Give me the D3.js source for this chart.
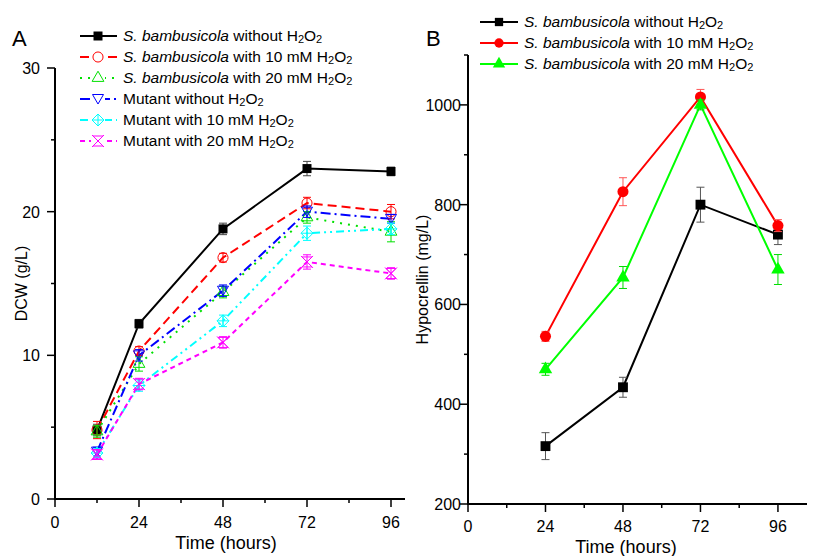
<!DOCTYPE html>
<html>
<head>
<meta charset="utf-8">
<script src="https://cdn.jsdelivr.net/npm/d3@7"></script>
<style>
  body { margin: 0; background: #fff; }
  text { font-family: "Liberation Sans", Arial, sans-serif; }
</style>
</head>
<body>
<div id="chart"></div>
<script>
// ---- data ----
var hoursA = [12, 24, 48, 72, 96];
var namesA = [
  ["S. bambusicola", " without "],
  ["S. bambusicola", " with 10 mM "],
  ["S. bambusicola", " with 20 mM "],
  ["", "Mutant without "],
  ["", "Mutant with 10 mM "],
  ["", "Mutant with 20 mM "]
];
var dcwWild0 = [4.8, 12.2, 18.8, 23.0, 22.8];
var dcwWild10 = [4.8, 10.3, 16.8, 20.6, 20.0];
var dcwWild20 = [4.7, 9.4, 14.4, 19.6, 18.6];
var dcwMut0 = [3.3, 10.0, 14.5, 20.0, 19.5];
var dcwMut10 = [3.2, 7.9, 12.4, 18.5, 18.8];
var dcwMut20 = [3.1, 8.0, 10.9, 16.5, 15.7];
var dcwErr = [
  [0.4, 0.3, 0.4, 0.5, 0.3],
  [0.6, 0.3, 0.3, 0.4, 0.5],
  [0.4, 0.5, 0.4, 0.4, 0.7],
  [0.3, 0.4, 0.4, 0.4, 0.3],
  [0.3, 0.4, 0.4, 0.5, 0.4],
  [0.3, 0.4, 0.4, 0.5, 0.4]
];

var hoursB = [24, 48, 72, 96];
var namesB = namesA.slice(0, 3);
var hypWild0 = [316, 434, 800, 740];
var hypWild10 = [536, 826, 1016, 758];
var hypWild20 = [470, 654, 1000, 670];
var hypErr = [
  [27, 20, 35, 20],
  [10, 28, 15, 12],
  [12, 22, 10, 30]
];

var ticksMain = [0, 24, 48, 72, 96];

// ---- styles per series ----
var colorsA = ["#000000", "#ff0000", "#00e000", "#0000ff", "#00ffff", "#ff00ff"];
var dashesA = [null, "9,5", "2,6", "10,4,2,4", "8,4,2,4,2,4", "5,4"];
var markersA = ["square", "circle", "triangle", "triangleDown", "diamondPlus", "hourglass"];
var colorsB = ["#000000", "#ff0000", "#00ff00"];
var markersB = ["square", "circle", "triangle"];
var errColorsB = ["#555555", "#ff5555", "#00dd00"];

var svg = d3.select("#chart").append("svg")
  .attr("width", 815).attr("height", 556);

function markerPath(type, k) {
  if (type === "square") return d3.symbol(d3.symbolSquare, 81 * k)();
  if (type === "circle") return d3.symbol(d3.symbolCircle, 80 * k)();
  if (type === "triangle") return d3.symbol(d3.symbolTriangle, 60 * k)();
  if (type === "triangleDown") return "M-5.5,-4.5L5.5,-4.5L0,5Z";
  if (type === "diamondPlus") return "M0,-6L6,0L0,6L-6,0Z M0,-6L0,6 M-6,0L6,0";
  if (type === "hourglass") return "M-5,-5L5,-5L-5,5L5,5Z M-6,-6L6,6 M6,-6L-6,6";
  return "";
}

function drawMarker(g, type, color, filled, x, y, k) {
  var p = g.append("path")
    .attr("d", markerPath(type, k || 1))
    .attr("transform", "translate(" + x + "," + y + ")");
  if (filled || type === "square") {
    p.attr("fill", color).attr("stroke", "none");
  } else {
    p.attr("fill", "none").attr("stroke", color).attr("stroke-width", 1);
  }
}

// writes "S. bambusicola with 10 mM H2O2" with italic species + subscripts
function legendText(g, x, y, name) {
  var t = g.append("text").attr("x", x).attr("y", y)
    .attr("font-size", 15.5).attr("fill", "#000");
  if (name[0]) t.append("tspan").attr("font-style", "italic").text(name[0]);
  t.append("tspan").text(name[1] + "H");
  t.append("tspan").attr("font-size", 11).attr("dy", 1.5).text("2");
  t.append("tspan").attr("dy", -1.5).text("O");
  t.append("tspan").attr("font-size", 11).attr("dy", 1.5).text("2");
}

function drawAxes(g, x, y, yMajor, yMinor, labelX, yTitle, titleX, xLabelY, xTitleY) {
  var xMinor = [12, 36, 60, 84];
  // axis lines
  g.append("line").attr("x1", x.range()[0]).attr("x2", x.range()[1])
    .attr("y1", y.range()[0]).attr("y2", y.range()[0])
    .attr("stroke", "#000").attr("stroke-width", 2);
  g.append("line").attr("x1", x.range()[0]).attr("x2", x.range()[0])
    .attr("y1", y.range()[0] + 1).attr("y2", y.range()[1])
    .attr("stroke", "#000").attr("stroke-width", 2);

  ticksMain.forEach(function(t) {
    g.append("line").attr("x1", x(t)).attr("x2", x(t))
      .attr("y1", y.range()[0]).attr("y2", y.range()[0] + 8)
      .attr("stroke", "#000").attr("stroke-width", 1.5);
    g.append("text").attr("x", x(t)).attr("y", xLabelY)
      .attr("text-anchor", "middle").attr("font-size", 16).text(t);
  });
  xMinor.forEach(function(t) {
    g.append("line").attr("x1", x(t)).attr("x2", x(t))
      .attr("y1", y.range()[0]).attr("y2", y.range()[0] + 4)
      .attr("stroke", "#000").attr("stroke-width", 1.5);
  });
  yMajor.forEach(function(v) {
    g.append("line").attr("x1", x.range()[0] - 8).attr("x2", x.range()[0])
      .attr("y1", y(v)).attr("y2", y(v))
      .attr("stroke", "#000").attr("stroke-width", 1.5);
    g.append("text").attr("x", labelX).attr("y", y(v) + 6)
      .attr("text-anchor", "end").attr("font-size", 16).text(v);
  });
  yMinor.forEach(function(v) {
    g.append("line").attr("x1", x.range()[0] - 4).attr("x2", x.range()[0])
      .attr("y1", y(v)).attr("y2", y(v))
      .attr("stroke", "#000").attr("stroke-width", 1.5);
  });

  var xMid = (x(0) + x(96)) / 2 + 3;
  g.append("text").attr("x", xMid).attr("y", xTitleY)
    .attr("text-anchor", "middle").attr("font-size", 18).text("Time (hours)");
  var yMid = (y.range()[0] + y.range()[1]) / 2;
  g.append("text")
    .attr("transform", "translate(" + titleX + "," + yMid + ") rotate(-90)")
    .attr("text-anchor", "middle").attr("font-size", 16).text(yTitle);
}

function drawErr(g, x, y, xs, vals, errs, color, cap) {
  xs.forEach(function(h, i) {
    var e = errs[i];
    g.append("line").attr("x1", x(h)).attr("x2", x(h))
      .attr("y1", y(vals[i] - e)).attr("y2", y(vals[i] + e))
      .attr("stroke", color).attr("stroke-width", 1);
    [vals[i] - e, vals[i] + e].forEach(function(v) {
      g.append("line").attr("x1", x(h) - cap).attr("x2", x(h) + cap)
        .attr("y1", y(v)).attr("y2", y(v))
        .attr("stroke", color).attr("stroke-width", 1);
    });
  });
}

// ================= Panel A =================
var xA = d3.scaleLinear().domain([0, 100]).range([55, 405]);
var yA = d3.scaleLinear().domain([0, 30]).range([499, 68]);
var gA = svg.append("g");
drawAxes(gA, xA, yA, [0, 10, 20, 30], [5, 15, 25], 40, "DCW (g/L)", 27, 528, 549);

var dataA = [dcwWild0, dcwWild10, dcwWild20, dcwMut0, dcwMut10, dcwMut20];
var lineA = d3.line().x(function(d) { return xA(d[0]); }).y(function(d) { return yA(d[1]); });

dataA.forEach(function(vals, s) {
  gA.append("path")
    .datum(hoursA.map(function(h, i) { return [h, vals[i]]; }))
    .attr("d", lineA)
    .attr("fill", "none")
    .attr("stroke", colorsA[s])
    .attr("stroke-width", 2)
    .attr("stroke-dasharray", dashesA[s]);
});
dataA.forEach(function(vals, s) {
  drawErr(gA, xA, yA, hoursA, vals, dcwErr[s], s === 0 ? "#444" : colorsA[s], 4);
  hoursA.forEach(function(h, i) {
    drawMarker(gA, markersA[s], colorsA[s], false, xA(h), yA(vals[i]));
  });
});

gA.append("text").attr("x", 12).attr("y", 46).attr("font-size", 22).text("A");

// legend A
var legA = svg.append("g");
namesA.forEach(function(n, i) {
  var ly = 36 + i * 21;
  legA.append("line").attr("x1", 80).attr("x2", 117).attr("y1", ly).attr("y2", ly)
    .attr("stroke", colorsA[i]).attr("stroke-width", 2)
    .attr("stroke-dasharray", dashesA[i]);
  legA.append("rect").attr("x", 91).attr("y", ly - 7).attr("width", 14).attr("height", 14)
    .attr("fill", i === 0 ? "none" : "#fff");
  drawMarker(legA, markersA[i], colorsA[i], false, 98, ly);
  legendText(legA, 123, ly + 5, n);
});

// ================= Panel B =================
var xB = d3.scaleLinear().domain([0, 105]).range([468, 807]);
var yB = d3.scaleLinear().domain([200, 1100]).range([504, 55]);
var gB = svg.append("g");
drawAxes(gB, xB, yB, [200, 400, 600, 800, 1000], [300, 500, 700, 900, 1100], 461,
  "Hypocrellin (mg/L)", 428, 532, 553);

var dataB = [hypWild0, hypWild10, hypWild20];
var lineB = d3.line().x(function(d) { return xB(d[0]); }).y(function(d) { return yB(d[1]); });

dataB.forEach(function(vals, s) {
  gB.append("path")
    .datum(hoursB.map(function(h, i) { return [h, vals[i]]; }))
    .attr("d", lineB)
    .attr("fill", "none")
    .attr("stroke", colorsB[s])
    .attr("stroke-width", 2);
});
dataB.forEach(function(vals, s) {
  drawErr(gB, xB, yB, hoursB, vals, hypErr[s], errColorsB[s], 4);
  hoursB.forEach(function(h, i) {
    drawMarker(gB, markersB[s], colorsB[s], true, xB(h), yB(vals[i]), s === 2 ? 1.3 : 1.2);
  });
});

gB.append("text").attr("x", 426).attr("y", 46).attr("font-size", 22).text("B");

var legB = svg.append("g");
namesB.forEach(function(n, i) {
  var ly = 22 + i * 21;
  legB.append("line").attr("x1", 480).attr("x2", 518).attr("y1", ly).attr("y2", ly)
    .attr("stroke", colorsB[i]).attr("stroke-width", 2);
  drawMarker(legB, markersB[i], colorsB[i], true, 499, ly, i === 2 ? 1.1 : 0.85);
  legendText(legB, 524, ly + 5, n);
});
</script>
</body>
</html>
